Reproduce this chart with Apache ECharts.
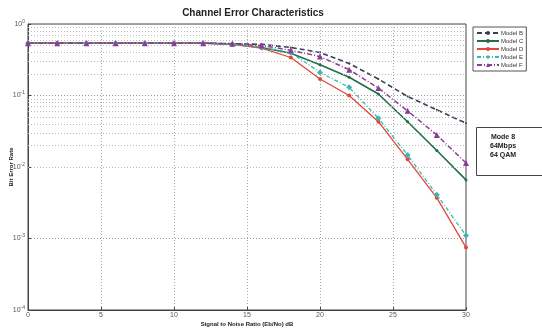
<!DOCTYPE html>
<html>
<head>
<meta charset="utf-8">
<script src="https://cdn.jsdelivr.net/npm/echarts@6/dist/echarts.min.js"></script>
<style>
  html, body { margin: 0; padding: 0; background: #fff; }
  #chart { width: 542px; height: 330px; }
</style>
</head>
<body>
<div id="chart"></div>
<script>
// SNR points (dB)
const snr = [0, 2, 4, 6, 8, 10, 12, 14, 16, 18, 20, 22, 24, 26, 28, 30];

// bit error rate per model
const modelB = [0.54, 0.54, 0.54, 0.54, 0.54, 0.54, 0.54, 0.53, 0.52, 0.47, 0.4, 0.28, 0.17, 0.097, 0.063, 0.041];
const modelC = [0.54, 0.54, 0.54, 0.54, 0.54, 0.54, 0.54, 0.52, 0.47, 0.39, 0.27, 0.18, 0.105, 0.043, 0.017, 0.0066];
const modelD = [0.54, 0.54, 0.54, 0.54, 0.54, 0.54, 0.54, 0.52, 0.46, 0.34, 0.17, 0.1, 0.043, 0.0128, 0.0037, 0.00075];
const modelE = [0.54, 0.54, 0.54, 0.54, 0.54, 0.54, 0.54, 0.52, 0.47, 0.4, 0.21, 0.13, 0.048, 0.0147, 0.0041, 0.0011];
const modelF = [0.54, 0.54, 0.54, 0.54, 0.54, 0.54, 0.54, 0.53, 0.5, 0.43, 0.35, 0.23, 0.127, 0.061, 0.028, 0.0114];

const xTicks = [0, 5, 10, 15, 20, 25, 30];
const decades = [-4, -3, -2, -1, 0];
const modeText = ["Mode 8", "64Mbps", "64 QAM"];

// minor grid values 2..9 x 10^k (matlab style log grid)
const minorGrid = [];
for (let k = -4; k < 0; k++) {
  for (let m = 2; m <= 9; m++) minorGrid.push(m * Math.pow(10, k));
}

const pairs = (arr) => arr.map((v, i) => [snr[i], v]);

const chart = echarts.init(document.getElementById("chart"));

const option = {
  backgroundColor: "#fff",
  animation: false,
  title: {
    text: "Channel Error Characteristics",
    left: 248,
    top: 3,
    textAlign: "center",
    textStyle: { fontFamily: "Liberation Sans", fontSize: 10, fontWeight: "bold", color: "#222" },
  },
  legend: {
    orient: "vertical",
    left: 473,
    top: 27,
    itemWidth: 22,
    itemHeight: 5,
    itemGap: 2,
    padding: [3, 3, 3, 3],
    borderColor: "#555",
    borderWidth: 1,
    textStyle: { fontFamily: "Liberation Sans", fontSize: 6, color: "#333", padding: [0, 0, 0, -3] },
    data: ["Model B", "Model C", "Model D", "Model E", "Model F"],
  },
  grid: {
    left: 28,
    right: 76,
    top: 24,
    bottom: 20,
    containLabel: false,
    outerBoundsMode: "none",
    show: true,
    borderColor: "#444",
    borderWidth: 1,
  },
  xAxis: {
    type: "value",
    min: 0,
    max: 30,
    interval: 5,
    name: "Signal to Noise Ratio (Eb/No) dB",
    nameLocation: "middle",
    nameGap: 11,
    nameMoveOverlap: false,
    nameTextStyle: { fontFamily: "Liberation Sans", fontSize: 6, fontWeight: "bold", color: "#222" },
    axisLine: { lineStyle: { color: "#444" } },
    axisTick: { inside: true, length: 3, lineStyle: { color: "#444" } },
    axisLabel: {
      fontFamily: "Liberation Sans",
      fontSize: 7,
      color: "#555",
      margin: 2,
      formatter: (v) => (xTicks.includes(v) ? String(v) : ""),
    },
    splitLine: { show: true, lineStyle: { color: "#aaa", type: [1, 2], width: 1 } },
  },
  yAxis: {
    type: "log",
    logBase: 10,
    min: 1e-4,
    max: 1,
    name: "Bit Error Rate",
    nameLocation: "middle",
    nameGap: 14,
    nameMoveOverlap: false,
    nameTextStyle: { fontFamily: "Liberation Sans", fontSize: 6, fontWeight: "bold", color: "#222" },
    axisLine: { lineStyle: { color: "#444" } },
    axisTick: { inside: true, length: 3, lineStyle: { color: "#444" } },
    axisLabel: {
      margin: 3,
      formatter: (v) => {
        const e = Math.round(Math.log10(v));
        if (!decades.includes(e)) return "";
        return "{b|10}{s|" + e + "}";
      },
      rich: {
        b: { fontFamily: "Liberation Sans", fontSize: 7, color: "#555" },
        s: { fontFamily: "Liberation Sans", fontSize: 5, color: "#555", verticalAlign: "top", padding: [0, 0, 5, 0] },
      },
    },
    splitLine: { show: true, lineStyle: { color: "#999", type: [1, 2], width: 1 } },
  },
  series: [
    {
      name: "Model B",
      type: "line",
      data: pairs(modelB),
      symbol: "circle",
      symbolSize: 2,
      lineStyle: { color: "#3c4056", width: 1.6, type: [5, 3] },
      itemStyle: { color: "#3c4056" },
      markLine: {
        silent: true,
        symbol: "none",
        label: { show: false },
        lineStyle: { color: "#bbb", type: [1, 2], width: 1 },
        data: minorGrid.map((v) => ({ yAxis: v })),
      },
      z: 3,
    },
    {
      name: "Model C",
      type: "line",
      data: pairs(modelC),
      symbol: "circle",
      symbolSize: 3,
      lineStyle: { color: "#1f6e4c", width: 1.6 },
      itemStyle: { color: "#1f6e4c" },
      z: 4,
    },
    {
      name: "Model D",
      type: "line",
      data: pairs(modelD),
      symbol: "circle",
      symbolSize: 4,
      lineStyle: { color: "#e2463c", width: 1.3 },
      itemStyle: { color: "#e2463c" },
      z: 5,
    },
    {
      name: "Model E",
      type: "line",
      data: pairs(modelE),
      symbol: "diamond",
      symbolSize: 6,
      lineStyle: { color: "#3ab8b0", width: 1.3, type: [4, 2, 1, 2] },
      itemStyle: { color: "#3ab8b0" },
      z: 6,
    },
    {
      name: "Model F",
      type: "line",
      data: pairs(modelF),
      symbol: "triangle",
      symbolSize: 6,
      lineStyle: { color: "#8a3d94", width: 1.5, type: [5, 2, 1, 2] },
      itemStyle: { color: "#8a3d94" },
      z: 7,
    },
  ],
  graphic: [
    {
      type: "rect",
      left: 476,
      top: 127,
      shape: { width: 70, height: 48 },
      style: { fill: "#fff", stroke: "#444", lineWidth: 1 },
    },
    {
      type: "text",
      left: 490,
      top: 133,
      style: {
        text: modeText.join("\n"),
        font: "bold 7px Liberation Sans",
        fill: "#222",
        textAlign: "center",
        lineHeight: 9,
        x: 12,
      },
    },
  ],
};

chart.setOption(option);
</script>
</body>
</html>
